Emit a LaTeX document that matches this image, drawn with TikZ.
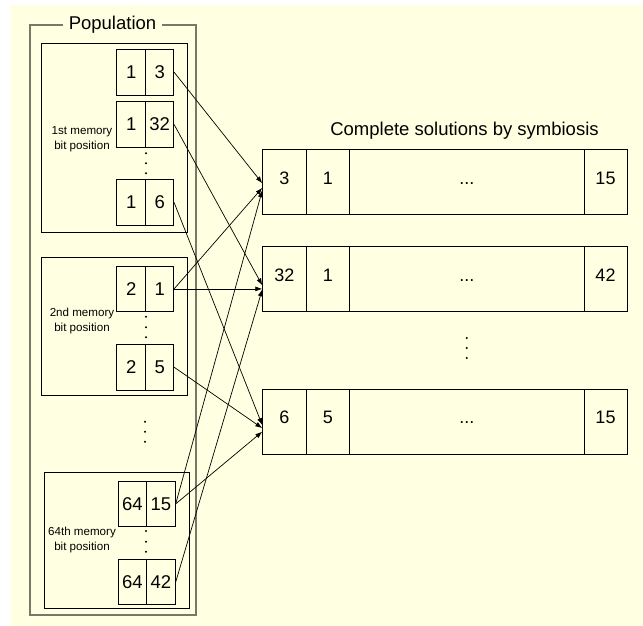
\documentclass[tikz,border=0pt]{standalone}
\usepackage{fontspec}
\setmainfont{Liberation Sans}
\usetikzlibrary{arrows.meta,calc}
\definecolor{bg}{RGB}{255,255,225}
\definecolor{popgray}{RGB}{120,120,105}
\begin{document}
\begin{tikzpicture}[x=1pt,y=-1pt,
  cell/.style={draw=black, line width=0.8pt, minimum height=45.5pt, inner sep=0pt, font=\fontsize{18.5}{20}\selectfont},
  rcell/.style={draw=black, line width=0.8pt, minimum height=65pt, inner sep=0pt, text height=12.8pt, text depth=8.4pt, font=\fontsize{18}{20}\selectfont},
  grp/.style={draw=black, line width=0.8pt, inner sep=0pt},
  lbl/.style={font=\fontsize{11.6}{15}\selectfont, align=center, inner sep=0pt},
  link/.style={line width=0.7pt, -{Latex[length=7pt,width=5pt]}},
  dotc/.style={fill=black}
]
\fill[bg] (10,5) rectangle (643,626);
\useasboundingbox (0,0) rectangle (643,626);

% Population frame
\draw[popgray, line width=1.6pt] (30,25) rectangle (196,615);
\node[fill=bg, inner xsep=6pt, inner ysep=2pt, font=\fontsize{18.5}{20}\selectfont] (poptitle) at (112.5,25) {Population};

% groups
\node[grp, minimum width=146pt, minimum height=189pt] (g1) at (114.3,137.8) {};
\node[grp, minimum width=146pt, minimum height=137.3pt] (g2) at (114.3,326.35) {};
\node[grp, minimum width=145pt, minimum height=136pt] (g3) at (116.8,540.3) {};

\node[lbl] (l1) at (82,139) {1st memory\\bit position};
\node[lbl] (l2) at (82,321) {2nd memory\\bit position};
\node[lbl] (l3) at (82,539.5) {64th memory\\bit position};

% cells group 1
\node[cell, minimum width=29pt] (a13l) at (131.2,72.2) {1};
\node[cell, minimum width=28pt] (a13) at (159.7,72.2) {3};
\node[cell, minimum width=29pt] (a132l) at (131.2,124.5) {1};
\node[cell, minimum width=28pt] (a132) at (159.7,124.5) {32};
\node[cell, minimum width=29pt] (a16l) at (131.2,202.5) {1};
\node[cell, minimum width=28pt] (a16) at (159.7,202.5) {6};
% cells group 2
\node[cell, minimum width=29pt] (a21l) at (131.2,288.9) {2};
\node[cell, minimum width=28pt] (a21) at (159.7,288.9) {1};
\node[cell, minimum width=29pt] (a25l) at (131.2,367.2) {2};
\node[cell, minimum width=28pt] (a25) at (159.7,367.2) {5};
% cells group 64
\node[cell, minimum width=28.4pt] (a6415l) at (132.5,503.9) {64};
\node[cell, minimum width=28.6pt] (a6415) at (161,503.9) {15};
\node[cell, minimum width=28.4pt] (a6442l) at (132.5,582) {64};
\node[cell, minimum width=28.6pt] (a6442) at (161,582) {42};

% vertical dots (population side)
\foreach \y in {153.3,163.3,173.3,316.7,327.3,337.3,531,541.7,551.7}
  {\fill[dotc] (146,\y) circle (1.1);}
\foreach \y in {421.7,431.7,441.7}
  {\fill[dotc] (145,\y) circle (1.1);}

% title of solutions
\node[font=\fontsize{18.5}{20}\selectfont, inner sep=0pt] (soltitle) at (464.5,131) {Complete solutions by symbiosis};

% solution rows
\foreach \r/\cy/\va/\vb/\vd in {r1/181.8/3/1/15, r2/279.35/32/1/42, r3/421.65/6/5/15}{
  \node[rcell, minimum width=43.6pt] (\r a) at (284.5,\cy) {\va};
  \node[rcell, minimum width=43.4pt] (\r b) at (328,\cy) {\vb};
  \node[rcell, minimum width=234.3pt] (\r c) at (466.85,\cy) {...};
  \node[rcell, minimum width=43pt] (\r d) at (605.5,\cy) {\vd};
}
\foreach \y in {338,348,358}
  {\fill[dotc] (466.7,\y) circle (1.1);}

% arrow targets
\coordinate (t1a) at ($(r1a.west)+(0,1.5)$);
\coordinate (t1b) at ($(r1a.west)+(0,6)$);
\coordinate (t1c) at ($(r1a.west)+(0,8.5)$);
\coordinate (t2a) at ($(r2a.west)+(0,6)$);
\coordinate (t2b) at (r2a.west |- a21.east);
\coordinate (t2c) at ($(r2a.west)+(0,10)$);
\coordinate (t3a) at ($(r3a.west)+(0,3.5)$);
\coordinate (t3b) at ($(r3a.west)+(0,6.5)$);
\coordinate (t3c) at ($(r3a.west)+(0,10)$);

\draw[link] (a13.east) -- (t1a);
\draw[link] (a21.east) -- (t1b);
\draw[link] (a6415.east) -- (t1c);
\draw[link] (a132.east) -- (t2a);
\draw[link] (a21.east) -- (t2b);
\draw[link] (a6442.east) -- (t2c);
\draw[link] (a16.east) -- (t3a);
\draw[link] (a25.east) -- (t3b);
\draw[link] (a6415.east) -- (t3c);
\end{tikzpicture}
\end{document}
